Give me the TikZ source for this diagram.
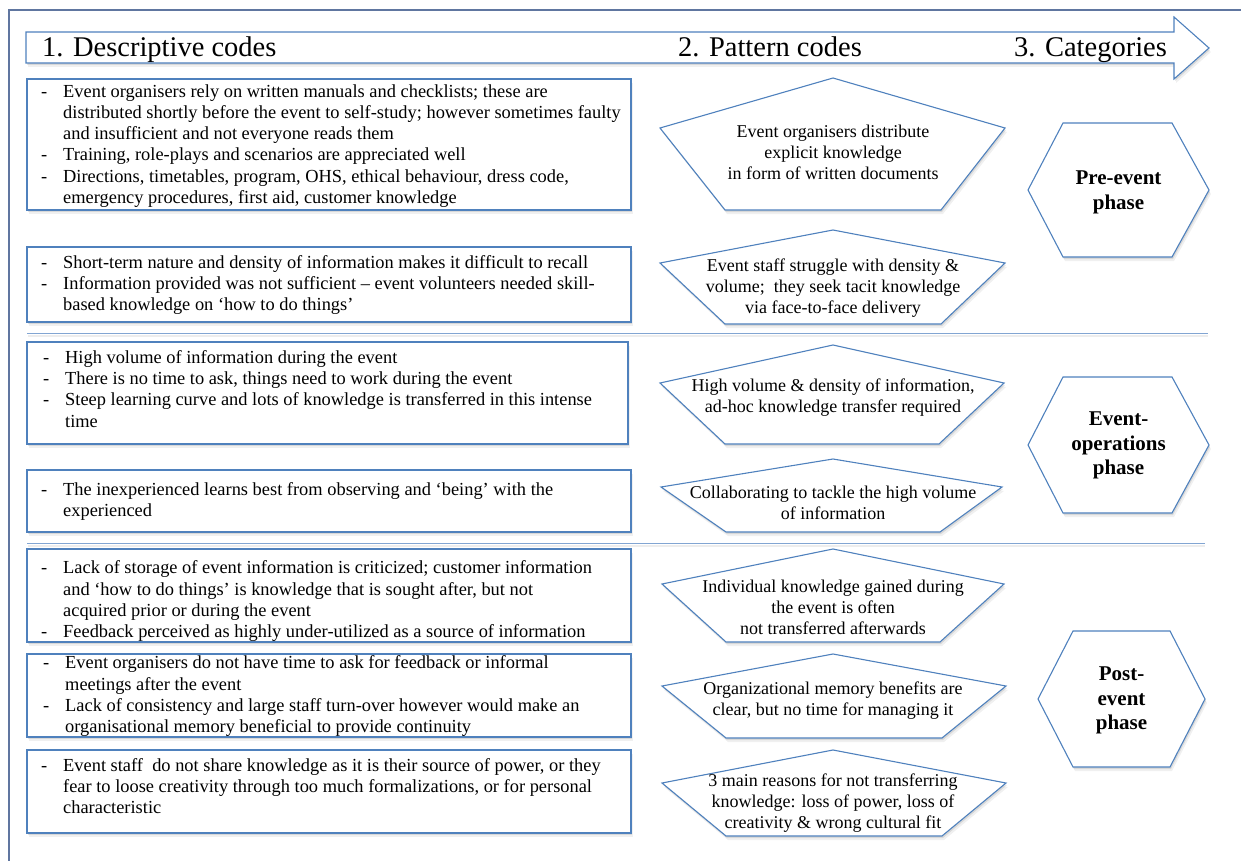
\documentclass[tikz,border=0pt]{standalone}
\usepackage{fontspec}
\setmainfont{Liberation Serif}
\usetikzlibrary{shadows}
\definecolor{ol}{RGB}{79,129,189}
\definecolor{framec}{RGB}{96,118,160}
\definecolor{sepc}{RGB}{130,165,210}
\tikzset{
  sh/.style={drop shadow={shadow xshift=2pt,shadow yshift=-4pt,opacity=0.06,fill=black},
             drop shadow={shadow xshift=1pt,shadow yshift=-2pt,opacity=0.10,fill=black}},
  box/.style={draw=ol, line width=1.1pt, fill=white, sh, inner sep=0pt, rectangle},
  shp/.style={draw=ol, line width=1.1pt, fill=white, sh, line join=miter},
  btext/.style={inner sep=0pt, anchor=west, font=\fontsize{18.4}{21.2}\selectfont, align=left},
  ptext/.style={inner sep=0pt, font=\fontsize{18}{21}\selectfont, align=center},
  htext/.style={inner sep=0pt, font=\fontsize{21}{24.5}\selectfont\bfseries, align=center},
  headtext/.style={inner sep=0pt, anchor=base west, font=\fontsize{28.5}{33}\selectfont},
  sepline/.style={draw=sepc, line width=1pt},
  sepshadow/.style={draw=black, opacity=0.07, line width=2pt},
  framel/.style={draw=framec, line width=1.3pt},
}
\newcommand\bullist[1]{\begin{tabular}{@{}p{22pt}@{}l@{}}#1\end{tabular}}
\begin{document}
\begin{tikzpicture}[x=1pt,y=-1pt]
\useasboundingbox (0,0) rectangle (1241,861);
% frame
\draw[framel] (9,861) -- (9,10) -- (1241,10);
% header arrow
\draw[shp] (26,32) -- (1174,32) -- (1174,17) -- (1209,48) -- (1174,79) -- (1174,63) -- (26,63) -- cycle;
\node[headtext] (h1) at (42,57) {1. Descriptive codes};
\node[headtext] (h2) at (678,57) {2. Pattern codes};
\node[headtext] (h3) at (1014,57) {3. Categories};
% separators
\draw[sepshadow] (28,335.5) -- (1208,335.5);
\draw[sepline] (27,333) -- (1208,333);
\draw[sepshadow] (28,545.5) -- (1205,545.5);
\draw[sepline] (27,543) -- (1205,543);
% descriptive code boxes
\node[box, minimum width=604pt, minimum height=131pt] (b1) at (329,144.5) {};
\node[btext] (t1) at (41,146) {\bullist{
- & Event organisers rely on written manuals and checklists; these are\\
  & distributed shortly before the event to self-study; however sometimes faulty\\
  & and insufficient and not everyone reads them\\
- & Training, role-plays and scenarios are appreciated well\\
- & Directions, timetables, program, OHS, ethical behaviour, dress code,\\
  & emergency procedures, first aid, customer knowledge}};
\node[box, minimum width=604pt, minimum height=75pt] (b2) at (329,284.5) {};
\node[btext] (t2) at (41,285) {\bullist{
- & Short-term nature and density of information makes it difficult to recall\\
- & Information provided was not sufficient – event volunteers needed skill-\\
  & based knowledge on ‘how to do things’}};
\node[box, minimum width=601pt, minimum height=102pt] (b3) at (327.5,393) {};
\node[btext] (t3) at (43,391) {\bullist{
- & High volume of information during the event\\
- & There is no time to ask, things need to work during the event\\
- & Steep learning curve and lots of knowledge is transferred in this intense\\
  & time}};
\node[box, minimum width=604pt, minimum height=62pt] (b4) at (329,501) {};
\node[btext] (t4) at (41,501.5) {\bullist{
- & The inexperienced learns best from observing and ‘being’ with the\\
  & experienced}};
\node[box, minimum width=604pt, minimum height=93pt] (b5) at (329,595.5) {};
\node[btext] (t5) at (41,601.5) {\bullist{
- & Lack of storage of event information is criticized; customer information\\
  & and ‘how to do things’ is knowledge that is sought after, but not\\
  & acquired prior or during the event\\
- & Feedback perceived as highly under-utilized as a source of information}};
\node[box, minimum width=604pt, minimum height=83pt] (b6) at (329,695.5) {};
\node[btext] (t6) at (43,696.5) {\bullist{
- & Event organisers do not have time to ask for feedback or informal\\
  & meetings after the event\\
- & Lack of consistency and large staff turn-over however would make an\\
  & organisational memory beneficial to provide continuity}};
\node[box, minimum width=604pt, minimum height=83pt] (b7) at (329,791.5) {};
\node[btext] (t7) at (41,788) {\bullist{
- & Event staff\ \ do not share knowledge as it is their source of power, or they\\
  & fear to loose creativity through too much formalizations, or for personal\\
  & characteristic}};
% pattern code pentagons
\draw[shp] (833,78) -- (1005,128) -- (941,210) -- (725,210) -- (660,128) -- cycle;
\node[ptext] (p1) at (833,152) {Event organisers distribute\\explicit knowledge\\in form of written documents};
\draw[shp] (833,230) -- (1005,263) -- (941,324) -- (725,324) -- (660,263) -- cycle;
\node[ptext] (p2) at (833,288) {Event staff struggle with density \&\\volume;\ \ they seek tacit knowledge\\via face-to-face delivery};
\draw[shp] (833,345) -- (1004,383) -- (939,444) -- (725,444) -- (660,383) -- cycle;
\node[ptext] (p3) at (833,398) {High volume \& density of information,\\ad-hoc knowledge transfer required};
\draw[shp] (833,459) -- (1002,487) -- (940,532) -- (726,532) -- (661,487) -- cycle;
\node[ptext] (p4) at (833,502.5) {Collaborating to tackle the high volume\\of information};
\draw[shp] (833,549) -- (1004,584) -- (940,642) -- (726,642) -- (662,584) -- cycle;
\node[ptext] (p5) at (833,607.5) {Individual knowledge gained during\\the event is often\\not transferred afterwards};
\draw[shp] (833,654) -- (1006,686) -- (942,738) -- (726,738) -- (662,686) -- cycle;
\node[ptext] (p6) at (833,701) {Organizational memory benefits are\\clear, but no time for managing it};
\draw[shp] (833,750) -- (1006,783) -- (942,836) -- (726,836) -- (662,783) -- cycle;
\node[ptext] (p7) at (833,803.5) {3 main reasons for not transferring\\knowledge: loss of power, loss of\\creativity \& wrong cultural fit};
% category hexagons
\draw[shp] (1063,123) -- (1172,123) -- (1209,190) -- (1172,257) -- (1063,257) -- (1028,190) -- cycle;
\node[htext] (c1) at (1118.5,192.5) {Pre-event\\phase};
\draw[shp] (1063,377) -- (1172,377) -- (1209,445) -- (1172,513) -- (1063,513) -- (1028,445) -- cycle;
\node[htext] (c2) at (1118.5,445.5) {Event-\\operations\\phase};
\draw[shp] (1073,631) -- (1170,631) -- (1205,699) -- (1170,767) -- (1073,767) -- (1038,699) -- cycle;
\node[htext] (c3) at (1121.5,700.5) {Post-\\event\\phase};
\end{tikzpicture}
\end{document}
